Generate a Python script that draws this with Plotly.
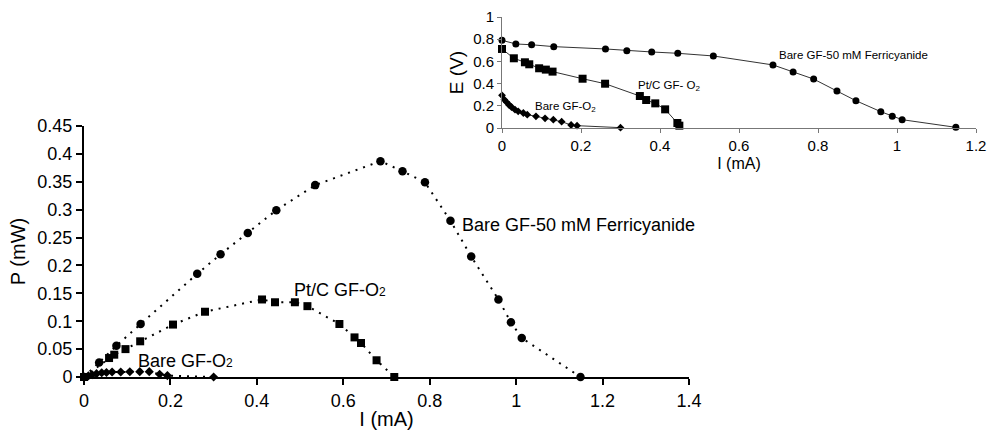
import plotly.graph_objects as go

# ---- power curves (main panel) ----
fe_i = [0, 0.035, 0.075, 0.131, 0.262, 0.316, 0.379, 0.445, 0.535, 0.686,
        0.737, 0.789, 0.848, 0.896, 0.959, 0.988, 1.013, 1.149]
fe_p = [0, 0.026, 0.056, 0.095, 0.185, 0.220, 0.258, 0.299, 0.344, 0.387,
        0.369, 0.349, 0.280, 0.216, 0.139, 0.098, 0.070, 0.0]

pt_i = [0, 0.058, 0.070, 0.096, 0.130, 0.206, 0.280, 0.412, 0.442, 0.488,
        0.517, 0.591, 0.626, 0.641, 0.677, 0.718]
pt_p = [0, 0.034, 0.040, 0.050, 0.064, 0.094, 0.117, 0.139, 0.134, 0.134,
        0.127, 0.095, 0.071, 0.061, 0.030, 0.0]

bo_i = [0, 0.010, 0.019, 0.029, 0.041, 0.052, 0.065, 0.085, 0.106, 0.129,
        0.151, 0.175, 0.193, 0.300]
bo_p = [0, 0.002, 0.004, 0.006, 0.0075, 0.008, 0.009, 0.009, 0.0095, 0.0096,
        0.0096, 0.005, 0.0025, 0.0]

# ---- polarization curves (inset) ----
fe_e = [0.79, 0.757, 0.75, 0.733, 0.712, 0.697, 0.685, 0.673, 0.649, 0.568,
        0.505, 0.441, 0.333, 0.246, 0.147, 0.105, 0.075, 0.006]

pt_iv = [0, 0.030, 0.058, 0.069, 0.094, 0.111, 0.128, 0.204, 0.261, 0.349,
         0.365, 0.388, 0.413, 0.444, 0.449]
pt_e = [0.712, 0.628, 0.592, 0.574, 0.538, 0.526, 0.508, 0.444, 0.399, 0.288,
        0.252, 0.222, 0.168, 0.045, 0.021]

bo_iv = [0, 0.006, 0.012, 0.018, 0.024, 0.033, 0.041, 0.054, 0.064, 0.086,
         0.109, 0.130, 0.151, 0.175, 0.190, 0.300]
bo_e = [0.294, 0.255, 0.231, 0.207, 0.189, 0.165, 0.150, 0.135, 0.120, 0.105,
        0.087, 0.075, 0.057, 0.027, 0.021, 0.003]

main_x_ticks = [0, 0.2, 0.4, 0.6, 0.8, 1, 1.2, 1.4]
main_y_ticks = [0, 0.05, 0.1, 0.15, 0.2, 0.25, 0.3, 0.35, 0.4, 0.45]
inset_x_ticks = [0, 0.2, 0.4, 0.6, 0.8, 1, 1.2]
inset_y_ticks = [0, 0.2, 0.4, 0.6, 0.8, 1]

FONT = "Liberation Sans, Arial, sans-serif"
W, H = 987, 431

fig = go.Figure()

dotted = dict(color="black", width=2, dash="2px,6px")
fig.add_trace(go.Scatter(x=fe_i, y=fe_p, mode="lines+markers", line=dotted,
                         marker=dict(symbol="circle", size=8.5, color="black"),
                         cliponaxis=False, xaxis="x", yaxis="y"))
fig.add_trace(go.Scatter(x=pt_i, y=pt_p, mode="lines+markers", line=dotted,
                         marker=dict(symbol="square", size=8, color="black"),
                         cliponaxis=False, xaxis="x", yaxis="y"))
fig.add_trace(go.Scatter(x=bo_i, y=bo_p, mode="lines+markers", line=dotted,
                         marker=dict(symbol="diamond", size=7, color="black"),
                         cliponaxis=False, xaxis="x", yaxis="y"))

solid = dict(color="#333333", width=1)
fig.add_trace(go.Scatter(x=fe_i, y=fe_e, mode="lines+markers", line=solid,
                         marker=dict(symbol="circle", size=7, color="black"),
                         cliponaxis=False, xaxis="x2", yaxis="y2"))
fig.add_trace(go.Scatter(x=pt_iv, y=pt_e, mode="lines+markers", line=solid,
                         marker=dict(symbol="square", size=8, color="black"),
                         cliponaxis=False, xaxis="x2", yaxis="y2"))
fig.add_trace(go.Scatter(x=bo_iv, y=bo_e, mode="lines+markers", line=solid,
                         marker=dict(symbol="diamond", size=6, color="black"),
                         cliponaxis=False, xaxis="x2", yaxis="y2"))

# pixel boxes of the two panels
main_box = (84, 689, 126, 377)     # left, right, top, bottom
inset_box = (502, 976, 17, 128)


def dom_x(box):
    return [box[0] / W, box[1] / W]


def dom_y(box):
    return [1 - box[3] / H, 1 - box[2] / H]


main_axis = dict(showline=True, linecolor="black", linewidth=2, ticks="outside",
                 ticklen=6, tickwidth=1.5, tickcolor="black", showgrid=False,
                 zeroline=False, automargin=False,
                 tickfont=dict(family=FONT, size=18, color="black"))
inset_axis = dict(showline=True, linecolor="#777777", linewidth=1, ticks="outside",
                  ticklen=4, tickwidth=1, tickcolor="#777777", showgrid=False,
                  zeroline=False, automargin=False,
                  tickfont=dict(family=FONT, size=15, color="black"))

fig.update_layout(
    width=W, height=H,
    margin=dict(l=0, r=0, t=0, b=0),
    paper_bgcolor="white", plot_bgcolor="rgba(0,0,0,0)",
    showlegend=False,
    font=dict(family=FONT, color="black"),
    xaxis=dict(domain=dom_x(main_box), range=[0, 1.4], tickvals=main_x_ticks,
               ticktext=[f"{v:g}" for v in main_x_ticks],
               title=dict(text="I (mA)", font=dict(size=20), standoff=2),
               anchor="y", **main_axis),
    yaxis=dict(domain=dom_y(main_box), range=[0, 0.45], tickvals=main_y_ticks,
               ticktext=[f"{v:g}" for v in main_y_ticks],
               title=dict(text="P (mW)", font=dict(size=20), standoff=6),
               anchor="x", **main_axis),
    xaxis2=dict(domain=dom_x(inset_box), range=[0, 1.2], tickvals=inset_x_ticks,
                ticktext=[f"{v:g}" for v in inset_x_ticks],
                title=dict(text="I (mA)", font=dict(size=16), standoff=4),
                anchor="y2", **inset_axis),
    yaxis2=dict(domain=dom_y(inset_box), range=[0, 1], tickvals=inset_y_ticks,
                ticktext=[f"{v:g}" for v in inset_y_ticks],
                title=dict(text="E (V)", font=dict(size=19), standoff=4),
                anchor="x2", **inset_axis),
)

labels = [
    ("x", "y", 0.871, 0.2725, "Bare GF-50 mM Ferricyanide", 18),
    ("x", "y", 0.481, 0.156, 'Pt/C GF-O<span style="font-size:12px">2</span>', 18),
    ("x", "y", 0.120, 0.029, 'Bare GF-O<span style="font-size:12px">2</span>', 18),
    ("x2", "y2", 0.696, 0.66, "Bare GF-50 mM Ferricyanide", 11.5),
    ("x2", "y2", 0.339, 0.381, "Pt/C GF- O<sub>2</sub>", 11.5),
    ("x2", "y2", 0.078, 0.19, "Bare GF-O<sub>2</sub>", 11.5),
]
for xr, yr, x, y, txt, size in labels:
    fig.add_annotation(x=x, y=y, xref=xr, yref=yr, text=txt, showarrow=False,
                       xanchor="left", yanchor="middle",
                       font=dict(family=FONT, size=size, color="black"))

fig.write_html("out.html")
